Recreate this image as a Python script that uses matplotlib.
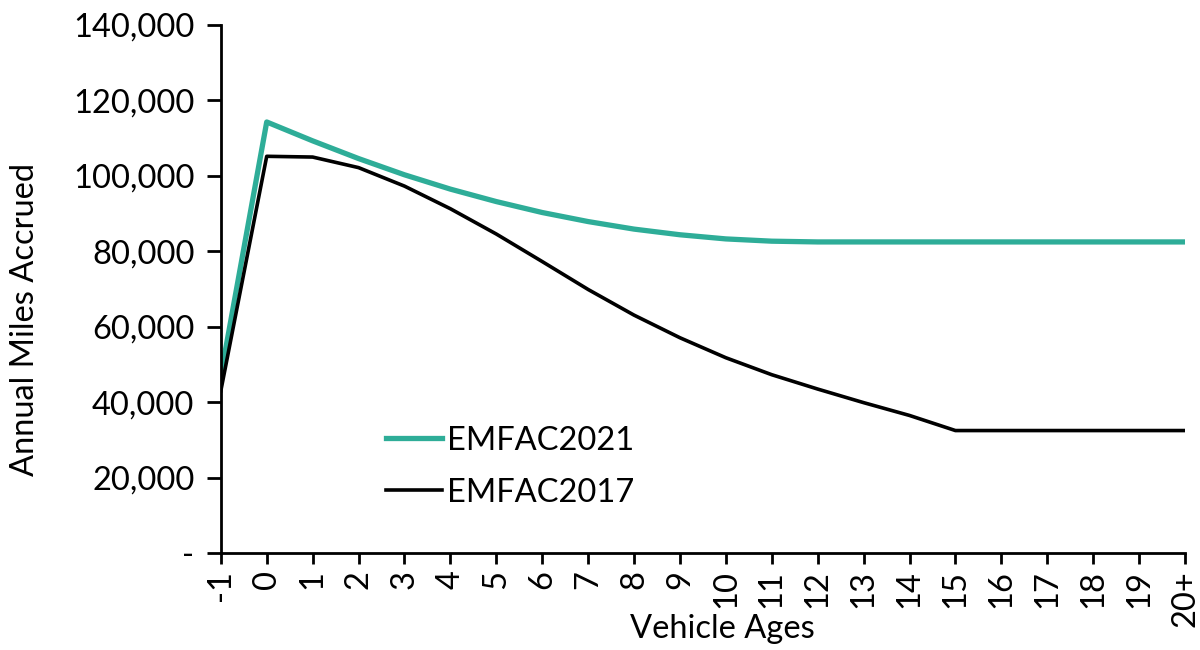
import numpy as np
import matplotlib.pyplot as plt
from matplotlib.ticker import FuncFormatter

# vehicle ages and annual mileage per model version
ages = ['-1'] + [str(i) for i in range(20)] + ['20+']
emfac2021 = [47000, 114300, 109300, 104600, 100300, 96500, 93200, 90300, 87900,
             85900, 84400, 83300, 82700, 82500, 82500, 82500, 82500, 82500,
             82500, 82500, 82500, 82500]
emfac2017 = [43000, 105200, 105000, 102200, 97300, 91300, 84600, 77300, 69900,
             63100, 57100, 51800, 47300, 43500, 39900, 36500, 32500, 32500,
             32500, 32500, 32500, 32500]

plt.rcParams['font.family'] = ['Lato', 'DejaVu Sans']
fs = 23.5

fig = plt.figure(figsize=(12, 6.5), dpi=100)
ax = fig.add_axes([0.184, 0.149, 0.8035, 0.8125])

x = np.arange(len(ages))
ax.plot(x, emfac2021, color='#2EAD98', lw=3.8, label='EMFAC2021')
ax.plot(x, emfac2017, color='black', lw=2.6, label='EMFAC2017')

ax.set_xlim(0, len(ages) - 1)
ax.set_ylim(0, 140000)
ax.set_yticks(np.arange(0, 140001, 20000))
ax.yaxis.set_major_formatter(FuncFormatter(lambda v, p: '-' if v == 0 else f'{v:,.0f}'))
ax.set_xticks(x)
ax.set_xticklabels(ages, rotation=90)

for s in ['top', 'right']:
    ax.spines[s].set_visible(False)
for s in ['left', 'bottom']:
    ax.spines[s].set_linewidth(2)
ax.tick_params(axis='y', direction='out', length=10, width=2, labelsize=fs, pad=9)
ax.tick_params(axis='x', direction='out', length=8, width=2, labelsize=fs, pad=4)

ax.set_xlabel('Vehicle Ages', fontsize=fs)
ax.xaxis.set_label_coords(0.52, -0.115)
ax.set_ylabel('Annual Miles Accrued', fontsize=fs)
ax.yaxis.set_label_coords(-0.188, 0.443)

ax.legend(loc='upper left', bbox_to_anchor=(0.141, 0.297), frameon=False,
          fontsize=fs, handlelength=1.7, handletextpad=0.15, labelspacing=0.67)

fig.savefig('out.png', dpi=100)
